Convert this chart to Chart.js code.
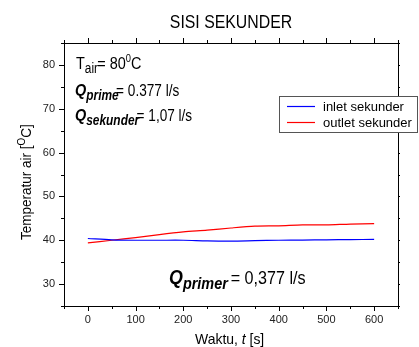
<!DOCTYPE html>
<html>
<head>
<meta charset="utf-8">
<script src="https://cdn.jsdelivr.net/npm/chart.js@4"></script>
<style>
  html, body { margin: 0; padding: 0; background: #fff; }
  #wrap { width: 419px; height: 347px; }
</style>
</head>
<body>
<div id="wrap"><canvas id="chart" width="419" height="347"></canvas></div>
<script>
'use strict';

// data
const waktu = [0, 50, 100, 150, 200, 250, 300, 350, 400, 450, 500, 550, 600];
const inletSekunder  = [40.4, 40.1, 40.0, 40.0, 40.0, 39.85, 39.8, 39.9, 40.0, 40.05, 40.1, 40.15, 40.2];
const outletSekunder = [39.4, 40.0, 40.6, 41.3, 41.9, 42.3, 42.8, 43.2, 43.3, 43.5, 43.5, 43.7, 43.8];
const seriesNames = ['inlet sekunder', 'outlet sekunder'];
const xTickVals = [0, 100, 200, 300, 400, 500, 600];
const yTickVals = [30, 40, 50, 60, 70, 80];
const xRange = [-50, 650];
const yRange = [25, 85];

const FONT = '"Liberation Sans", Arial, sans-serif';

// draw a row of text pieces (sub / superscripts), a bit squeezed like the original
function drawRuns(ctx, x, y, runs, sx) {
  ctx.save();
  ctx.translate(x, y);
  ctx.scale(sx, 1);
  let cx = 0;
  for (const r of runs) {
    ctx.font = r.font;
    ctx.fillText(r.t, cx, r.dy || 0);
    cx += ctx.measureText(r.t).width + (r.gap || 0);
  }
  ctx.restore();
}

const frameAndText = {
  id: 'frameAndText',
  afterDraw(chart) {
    const ctx = chart.ctx;
    const a = chart.chartArea;
    const xs = chart.scales.x, ys = chart.scales.y;
    ctx.save();
    ctx.strokeStyle = '#000';
    ctx.lineWidth = 1;
    ctx.strokeRect(Math.round(a.left) + 0.5, Math.round(a.top) + 0.5,
                   Math.round(a.right - a.left), Math.round(a.bottom - a.top));

    // tick marks, major + minor, all sides
    ctx.beginPath();
    for (let v = xRange[0]; v <= xRange[1]; v += 50) {
      const px = Math.round(xs.getPixelForValue(v)) + 0.5;
      const len = v % 100 === 0 ? 5 : 3;
      ctx.moveTo(px, a.bottom); ctx.lineTo(px, a.bottom + len);
      ctx.moveTo(px, a.top); ctx.lineTo(px, a.top - len);
    }
    for (let v = yRange[0]; v <= yRange[1]; v += 5) {
      const py = Math.round(ys.getPixelForValue(v)) + 0.5;
      const len = v % 10 === 0 ? 5 : 3;
      ctx.moveTo(a.left, py); ctx.lineTo(a.left - len, py);
      ctx.moveTo(a.right, py); ctx.lineTo(a.right + 2, py);
    }
    ctx.stroke();

    ctx.fillStyle = '#000';
    ctx.textBaseline = 'alphabetic';

    // title
    ctx.font = '18px ' + FONT;
    ctx.textAlign = 'center';
    ctx.save();
    ctx.translate(231, 28);
    ctx.scale(0.88, 1);
    ctx.fillText('SISI SEKUNDER', 0, 0);
    ctx.restore();
    ctx.textAlign = 'left';

    // axis titles
    ctx.save();
    ctx.translate(31, 240);
    ctx.rotate(-Math.PI / 2);
    drawRuns(ctx, 0, 0, [
      { t: 'Temperatur air [', font: '15px ' + FONT },
      { t: 'O', font: '11px ' + FONT, dy: -6 },
      { t: 'C]', font: '15px ' + FONT }
    ], 0.9);
    ctx.restore();

    drawRuns(ctx, 195, 344, [
      { t: 'Waktu, ', font: '15px ' + FONT },
      { t: 't', font: 'italic 15px ' + FONT },
      { t: ' [s]', font: '15px ' + FONT }
    ], 0.93);

    // notes in the plot
    const bi = 'italic bold ';
    drawRuns(ctx, 76, 69, [
      { t: 'T', font: '17px ' + FONT },
      { t: 'air', font: '14px ' + FONT, dy: 4, gap: -1 },
      { t: '= 80', font: '17px ' + FONT },
      { t: '0', font: '11px ' + FONT, dy: -7 },
      { t: 'C', font: '17px ' + FONT }
    ], 0.85);
    drawRuns(ctx, 75, 96, [
      { t: 'Q', font: bi + '17px ' + FONT },
      { t: 'prime', font: bi + '14px ' + FONT, dy: 4, gap: -3 },
      { t: '= 0.377 l/s', font: '16px ' + FONT }
    ], 0.85);
    drawRuns(ctx, 75, 121, [
      { t: 'Q', font: bi + '17px ' + FONT },
      { t: 'sekunder', font: bi + '14px ' + FONT, dy: 4, gap: -3 },
      { t: '= 1,07 l/s', font: '16px ' + FONT }
    ], 0.85);
    drawRuns(ctx, 169, 284, [
      { t: 'Q', font: bi + '21px ' + FONT },
      { t: 'primer', font: bi + '17px ' + FONT, dy: 5, gap: -2 },
      { t: ' = 0,377 l/s', font: '19px ' + FONT }
    ], 0.85);

    // legend box
    ctx.fillStyle = '#fff';
    ctx.fillRect(279.5, 96.5, 138, 36);
    ctx.strokeStyle = '#555';
    ctx.strokeRect(279.5, 96.5, 138, 36);
    chart.data.datasets.forEach((ds, i) => {
      const ly = 106.5 + i * 16;
      ctx.strokeStyle = ds.borderColor;
      ctx.lineWidth = 1.2;
      ctx.beginPath();
      ctx.moveTo(287, ly); ctx.lineTo(315, ly);
      ctx.stroke();
      ctx.fillStyle = '#000';
      ctx.font = '13px ' + FONT;
      ctx.textBaseline = 'middle';
      ctx.fillText(ds.label, 323, ly + 0.5);
    });
    ctx.restore();
  }
};

const toPoints = (ys) => waktu.map((t, i) => ({ x: t, y: ys[i] }));

new Chart(document.getElementById('chart'), {
  type: 'line',
  data: {
    datasets: [
      { label: seriesNames[0], data: toPoints(inletSekunder), borderColor: 'rgb(0,0,255)',
        borderWidth: 1.2, pointRadius: 0, tension: 0.3, fill: false },
      { label: seriesNames[1], data: toPoints(outletSekunder), borderColor: 'rgb(255,0,0)',
        borderWidth: 1.2, pointRadius: 0, tension: 0.3, fill: false }
    ]
  },
  options: {
    responsive: false,
    animation: false,
    events: [],
    layout: { padding: { top: 43, right: 21, left: 0, bottom: 0 } },
    plugins: { legend: { display: false }, title: { display: false }, tooltip: { enabled: false } },
    scales: {
      x: {
        type: 'linear', min: xRange[0], max: xRange[1],
        afterBuildTicks: (s) => { s.ticks = xTickVals.map(v => ({ value: v })); },
        afterFit: (s) => { s.height = 41; },
        grid: { display: false, drawTicks: false },
        border: { display: false },
        ticks: { font: { family: FONT, size: 11 }, color: '#222', padding: 7, maxRotation: 0 }
      },
      y: {
        type: 'linear', min: yRange[0], max: yRange[1],
        afterBuildTicks: (s) => { s.ticks = yTickVals.map(v => ({ value: v })); },
        afterFit: (s) => { s.width = 64; },
        grid: { display: false, drawTicks: false },
        border: { display: false },
        ticks: { font: { family: FONT, size: 11 }, color: '#222', padding: 9 }
      }
    }
  },
  plugins: [frameAndText]
});
</script>
</body>
</html>
